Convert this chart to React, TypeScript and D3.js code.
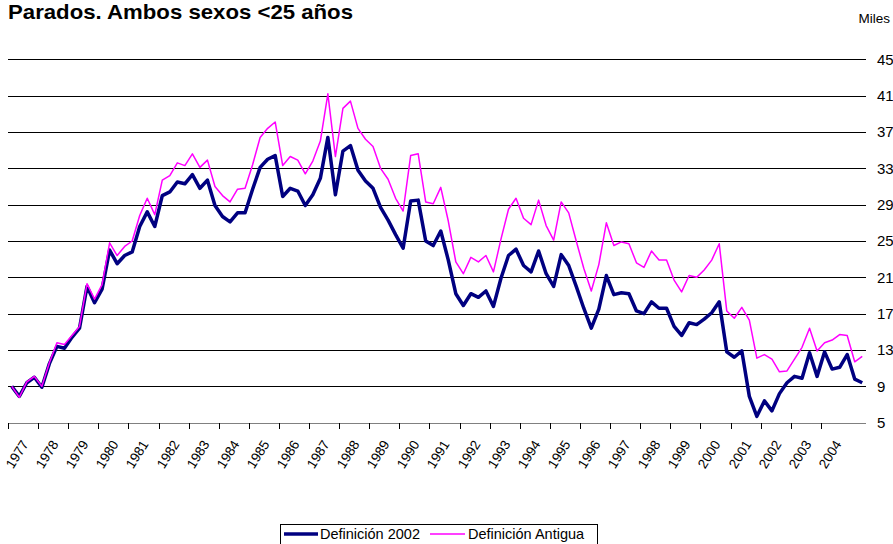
import React from "react";
import * as d3 from "d3";

const years: string[] = ["1977","1978","1979","1980","1981","1982","1983","1984","1985","1986","1987","1988","1989","1990","1991","1992","1993","1994","1995","1996","1997","1998","1999","2000","2001","2002","2003","2004"];
const quarters: string[] = ["T1", "T2", "T3", "T4"];
const categories: string[] = [...years, "2005"].flatMap((y) => quarters.map((q) => `${y} ${q}`)).slice(0, 114);

const def2002: number[] = [
  9.0, 7.9, 9.4, 10.0, 8.9, 11.5, 13.4, 13.2, 14.4, 15.4,
  20.0, 18.2, 19.7, 24.0, 22.5, 23.4, 23.8, 26.6, 28.2, 26.6,
  30.0, 30.4, 31.5, 31.3, 32.3, 30.8, 31.7, 28.9, 27.7, 27.1,
  28.1, 28.1, 30.7, 33.1, 34.0, 34.4, 29.9, 30.8, 30.5, 28.9,
  30.1, 31.9, 36.4, 30.1, 34.9, 35.5, 32.8, 31.6, 30.8, 28.7,
  27.3, 25.7, 24.2, 29.4, 29.5, 25.0, 24.5, 26.1, 22.9, 19.2,
  17.9, 19.2, 18.8, 19.5, 17.8, 20.9, 23.4, 24.1, 22.3, 21.6,
  23.9, 21.4, 20.0, 23.5, 22.3, 20.0, 17.6, 15.4, 17.5, 21.2,
  19.1, 19.3, 19.2, 17.3, 17.0, 18.3, 17.6, 17.6, 15.6, 14.6,
  16.0, 15.8, 16.4, 17.1, 18.3, 12.8, 12.2, 12.9, 7.9, 5.7,
  7.4, 6.3, 8.2, 9.4, 10.1, 9.9, 12.7, 10.1, 12.8, 10.9,
  11.1, 12.5, 9.8, 9.4,
];

const defAntigua: number[] = [
  9.0, 7.8, 9.5, 10.1, 9.0, 11.6, 13.8, 13.6, 14.6, 15.6,
  20.3, 18.6, 20.2, 24.8, 23.4, 24.4, 25.0, 27.8, 29.7, 27.9,
  31.7, 32.2, 33.6, 33.3, 34.6, 33.1, 33.9, 31.0, 30.0, 29.3,
  30.7, 30.8, 33.4, 36.4, 37.4, 38.1, 33.3, 34.3, 33.9, 32.4,
  33.8, 36.0, 41.2, 34.3, 39.6, 40.4, 37.4, 36.2, 35.4, 33.0,
  31.8, 29.7, 28.3, 34.4, 34.6, 29.3, 29.1, 30.9, 27.2, 22.7,
  21.4, 23.2, 22.7, 23.4, 21.6, 25.2, 28.5, 29.7, 27.5, 26.8,
  29.5, 26.7, 25.1, 29.3, 28.1, 25.0, 22.0, 19.5, 22.4, 27.0,
  24.5, 24.9, 24.7, 22.6, 22.1, 23.9, 22.9, 22.9, 20.7, 19.4,
  21.2, 21.0, 21.8, 22.9, 24.7, 17.3, 16.5, 17.7, 16.3, 12.1,
  12.5, 12.0, 10.6, 10.7, 12.0, 13.3, 15.4, 12.9, 13.8, 14.1,
  14.7, 14.6, 11.7, 12.3,
];

const yTicks: number[] = [5, 9, 13, 17, 21, 25, 29, 33, 37, 41, 45];
const seriesNames: string[] = ["Definición 2002", "Definición Antigua"];
const title = "Parados. Ambos sexos <25 años";
const unitLabel = "Miles";

const W = 893;
const H = 544;
const FONT = "Arial, 'Liberation Sans', Helvetica, sans-serif";

export default function App() {
  const x = d3.scaleBand<string>().domain(categories).range([8, 866]).paddingInner(0).paddingOuter(0);
  const y = d3.scaleLinear().domain([5, 45]).range([422.7, 59.3]);
  const bw = x.bandwidth();

  const line = d3
    .line<number>()
    .x((_, i) => (x(categories[i]) as number) + bw / 2)
    .y((d) => y(d));

  const tickCats = categories.filter((_, i) => i % 4 === 0 && i / 4 < years.length);

  return (
    <svg
      width={W}
      height={H}
      style={{ position: "absolute", left: 0, top: 0, background: "#fff" }}
      fontFamily={FONT}
    >
      <rect x={0} y={0} width={W} height={H} fill="#fff" />
      <text x={8} y={18.6} fontSize={20.5} fontWeight="bold" fill="#000" textLength={345} lengthAdjust="spacingAndGlyphs">
        {title}
      </text>
      <text x={890} y={23} fontSize={13.5} textAnchor="end" fill="#000">
        {unitLabel}
      </text>

      {yTicks.map((t) => (
        <g key={t}>
          <line
            x1={8}
            x2={866}
            y1={Math.round(y(t)) + 0.5}
            y2={Math.round(y(t)) + 0.5}
            stroke={t === 5 ? "#808080" : "#000"}
            strokeWidth={1}
          />
          <text x={877} y={y(t)} dy="0.36em" fontSize={15} fill="#000">
            {t}
          </text>
        </g>
      ))}

      {tickCats.map((c, k) => {
        const tx = Math.round(x(c) as number) + 0.5;
        return (
          <g key={c}>
            <line x1={tx} x2={tx} y1={423} y2={429} stroke="#000" strokeWidth={1} />
            <text
              transform={`translate(${tx + 20.5},${444}) rotate(-58)`}
              textAnchor="end"
              fontSize={13.5}
              fill="#000"
            >
              {years[k]}
            </text>
          </g>
        );
      })}

      <path d={line(def2002) || ""} fill="none" stroke="#000080" strokeWidth={3.5} strokeLinejoin="round" />
      <path d={line(defAntigua) || ""} fill="none" stroke="#FF00FF" strokeWidth={1.5} strokeLinejoin="round" />

      <g>
        <rect x={280.5} y={524.5} width={317} height={30} fill="#fff" stroke="#000" strokeWidth={1} />
        <line x1={284} x2={318} y1={534} y2={534} stroke="#000080" strokeWidth={3.5} />
        <text x={320} y={539} fontSize={14.5} fill="#000">
          {seriesNames[0]}
        </text>
        <line x1={430} x2={465} y1={534} y2={534} stroke="#FF00FF" strokeWidth={1.5} />
        <text x={468} y={539} fontSize={14.5} fill="#000">
          {seriesNames[1]}
        </text>
      </g>
    </svg>
  );
}
